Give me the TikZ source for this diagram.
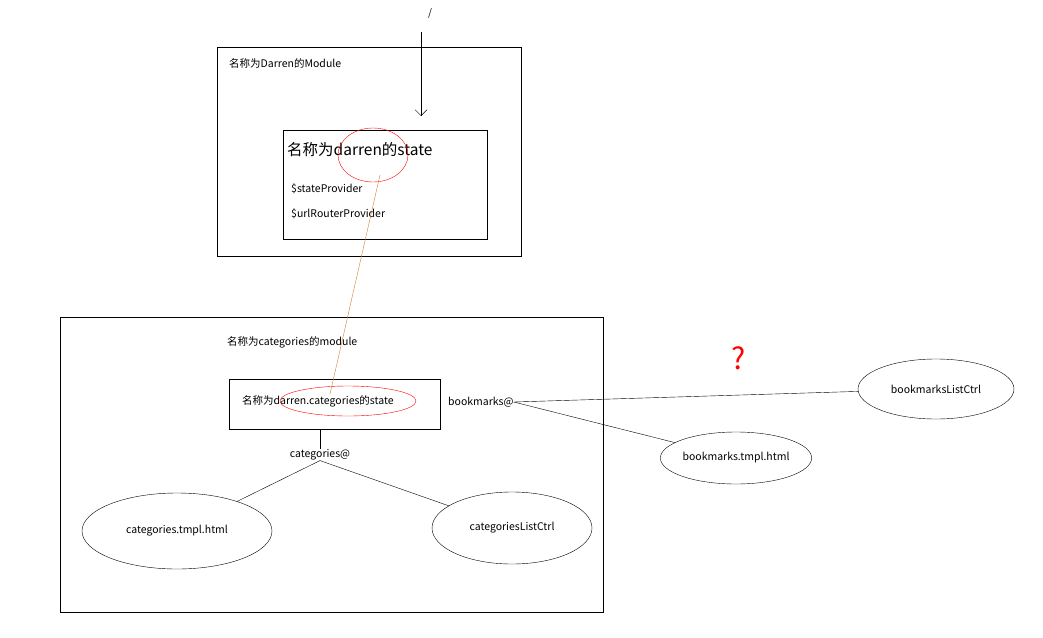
\documentclass[tikz,border=0pt]{standalone}
\usepackage{fontspec}
\setmainfont{Noto Sans CJK SC}
\usetikzlibrary{shapes.geometric,arrows.meta}
\tikzstyle{box}=[draw, thick, inner sep=0, outer sep=0]
\tikzstyle{txt}=[inner sep=0, anchor=west, font=\fontsize{10.5}{12}\selectfont]
\tikzstyle{oval}=[draw, ellipse, inner sep=0, font=\fontsize{10.5}{12}\selectfont]
\tikzstyle{scribble}=[draw=red, thin]
\begin{document}
\begin{tikzpicture}[x=1pt, y=-1pt]
    \useasboundingbox (0,0) rectangle (1043,637);
    % outer modules
    \draw[box] (217,47) rectangle (521,256);
    \draw[box] (60,317) rectangle (603,612);
    \node[txt] (darrenmod) at (229,63) {名称为Darren的Module};
    \node[txt] (catmod) at (227,342) {名称为categories的module};
    % darren state
    \draw[box] (283,130) rectangle (487,239);
    \node[txt, font=\fontsize{15.5}{17}\selectfont] (darren) at (287,150) {名称为darren的state};
    \node[txt] (sp) at (291,189) {\$stateProvider};
    \node[txt] (urp) at (291,214) {\$urlRouterProvider};
    \node[inner sep=0] (slash) at (430,13) {/};
    \coordinate (top) at (421,32);
    \coordinate (in) at (421,116);
    \draw[-{Straight Barb[length=6pt]}] (top) -- (in);
    % categories state
    \draw[box] (229,379) rectangle (440,429);
    \node[txt] (catstate) at (242,401) {名称为darren.categories的state};
    \draw[scribble] (373,155) ellipse (35 and 27);
    \draw[scribble] (348,401) ellipse (68 and 15);
    \coordinate (up) at (380,175);
    \coordinate (down) at (330,394);
    \draw[draw=brown!80!orange, thin] (up) -- (down);
    % views
    \node[txt] (bm) at (448,402) {bookmarks@};
    \node[inner sep=0, font=\fontsize{10.5}{12}\selectfont] (cat) at (320,455) {categories@};
    \node[oval, minimum width=190, minimum height=76] (cattmpl) at (177,531) {categories.tmpl.html};
    \node[oval, minimum width=160, minimum height=72] (catctrl) at (512,528) {categoriesListCtrl};
    \node[oval, minimum width=146, minimum height=52] (bmtmpl) at (736,458) {bookmarks.tmpl.html};
    \node[oval, minimum width=156, minimum height=60] (bmctrl) at (936,389) {bookmarksListCtrl};
    \coordinate (catbot) at (320,429);
    \draw (catbot) -- (cat.north);
    \draw (cat.south) -- (cattmpl);
    \draw (cat.south) -- (catctrl);
    \draw (bm.east) -- (bmctrl);
    \draw (bm.east) -- (bmtmpl);
    \node[text=red, font=\fontsize{30}{32}\selectfont] (q) at (739,358) {?};
\end{tikzpicture}
\end{document}
